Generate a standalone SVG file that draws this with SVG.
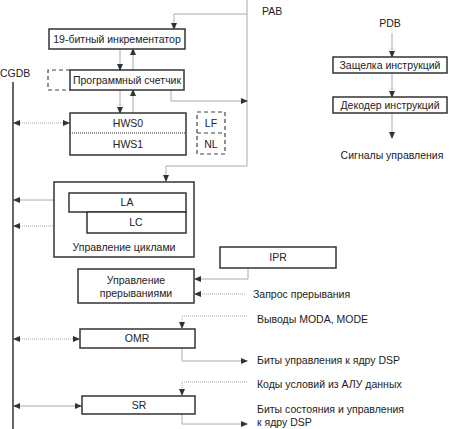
<svg xmlns="http://www.w3.org/2000/svg" width="450" height="429" viewBox="0 0 450 429">
<defs>
<marker id="ah" markerWidth="7" markerHeight="6" refX="6" refY="3" orient="auto" markerUnits="userSpaceOnUse">
<path d="M0,0 L7,3 L0,6 Z" fill="#333"/>
</marker>
<marker id="as" markerWidth="7" markerHeight="6" refX="1" refY="3" orient="auto" markerUnits="userSpaceOnUse">
<path d="M7,0 L0,3 L7,6 Z" fill="#333"/>
</marker>
</defs>
<style>
text{font-family:"Liberation Sans",Arial,sans-serif;font-size:10.5px;fill:#222}
.c{text-anchor:middle}
.box{fill:#fff;stroke:#333;stroke-width:1.5}
.dash{fill:none;stroke:#444;stroke-width:1.2;stroke-dasharray:4,3}
.ln{fill:none;stroke:#aaa;stroke-width:1}
.dt{fill:none;stroke:#aaa;stroke-width:1;stroke-dasharray:1,1}
.bus{fill:none;stroke:#333;stroke-width:1.5}
</style>
<rect width="450" height="429" fill="#fff"/>

<g id="connectors">
<path class="ln" d="M247,0 V166 H166 V181" marker-end="url(#ah)"/>
<path class="ln" d="M247,14 H174 V29" marker-end="url(#ah)"/>
<path class="ln" d="M171,90 V101 H247" marker-end="url(#ah)"/>
<path class="ln" d="M120,49 V70" marker-end="url(#ah)"/>
<path class="ln" d="M133,70 V49" marker-end="url(#ah)"/>
<path class="ln" d="M120,90 V113" marker-end="url(#ah)"/>
<path class="ln" d="M133,113 V90" marker-end="url(#ah)"/>
<path class="bus" d="M13,82 V429"/>
<path class="dt" d="M14,123 H69" marker-start="url(#as)" marker-end="url(#ah)"/>
<path class="ln" d="M14,200 H68" marker-start="url(#as)" marker-end="url(#ah)"/>
<path class="dt" d="M14,226 H86" marker-start="url(#as)" marker-end="url(#ah)"/>
<path class="dt" d="M14,339 H79" marker-start="url(#as)" marker-end="url(#ah)"/>
<path class="ln" d="M14,406 H81" marker-start="url(#as)" marker-end="url(#ah)"/>
<path class="ln" d="M392,33 V57" marker-end="url(#ah)"/>
<path class="ln" d="M392,73 V97" marker-end="url(#ah)"/>
<path class="ln" d="M392,113 V138" marker-end="url(#ah)"/>
<path class="ln" d="M248,267 V279 H195" marker-end="url(#ah)"/>
<path class="dt" d="M245,294 H195" marker-end="url(#ah)"/>
<path class="dt" d="M247,316 H182 V328" marker-end="url(#ah)"/>
<path class="ln" d="M182,348 V361 H247" marker-end="url(#ah)"/>
<path class="dt" d="M247,382 H182 V395" marker-end="url(#ah)"/>
<path class="ln" d="M182,414 V424 H247" marker-end="url(#ah)"/>
</g>

<g id="labels">
<text x="0" y="77">CGDB</text>
<text x="262" y="15">PAB</text>
</g>

<g id="incrementer">
<rect class="box" x="49" y="29" width="136" height="20"/>
<text class="c" x="117" y="43">19-битный инкрементатор</text>
</g>

<g id="pc">
<path class="dash" d="M70,70 H48 V90 H70"/>
<rect class="box" x="70" y="70" width="114" height="20"/>
<text class="c" x="127" y="84">Программный счетчик</text>
</g>

<g id="hws">
<rect class="box" x="70" y="113" width="116" height="42"/>
<line x1="70" y1="133" x2="186" y2="133" stroke="#333" stroke-width="1" stroke-dasharray="1,1"/>
<text class="c" x="128" y="127">HWS0</text>
<text class="c" x="128" y="148">HWS1</text>
</g>

<g id="lfnl">
<rect class="dash" x="197" y="112" width="28" height="42"/>
<line x1="197" y1="133" x2="225" y2="133" stroke="#444" stroke-width="1.2" stroke-dasharray="4,3"/>
<text class="c" x="211" y="127">LF</text>
<text class="c" x="211" y="148">NL</text>
</g>

<g id="loop">
<rect class="box" x="54" y="182" width="140" height="75"/>
<rect class="box" x="69" y="193" width="117" height="19"/>
<text class="c" x="127" y="206">LA</text>
<rect class="box" x="87" y="212" width="99" height="21"/>
<text class="c" x="136" y="226">LC</text>
<text class="c" x="124" y="251">Управление циклами</text>
</g>

<g id="ipr">
<rect class="box" x="220" y="247" width="116" height="21"/>
<text class="c" x="278" y="261">IPR</text>
</g>

<g id="intctl">
<rect class="box" x="78" y="269" width="116" height="34"/>
<text class="c" x="136" y="284">Управление</text>
<text class="c" x="136" y="297">прерываниями</text>
</g>

<g id="omr">
<rect class="box" x="80" y="329" width="115" height="19"/>
<text class="c" x="137" y="342">OMR</text>
</g>

<g id="sr">
<rect class="box" x="82" y="396" width="113" height="18"/>
<text class="c" x="139" y="409">SR</text>
</g>

<g id="latch">
<rect class="box" x="333" y="57" width="114" height="16"/>
<text class="c" x="390" y="69">Защелка инструкций</text>
</g>

<g id="decoder">
<rect class="box" x="333" y="97" width="114" height="16"/>
<text class="c" x="390" y="109">Декодер инструкций</text>
</g>

<g id="ext-labels">
<text class="c" x="390" y="27">PDB</text>
<text class="c" x="392" y="159">Сигналы управления</text>
<text x="253" y="298">Запрос прерывания</text>
<text x="257" y="323">Выводы MODA, MODE</text>
<text x="257" y="364">Биты управления к ядру DSP</text>
<text x="257" y="388">Коды условий из АЛУ данных</text>
<text x="257" y="413">Биты состояния и управления</text>
<text x="257" y="426">к ядру DSP</text>
</g>
</svg>
